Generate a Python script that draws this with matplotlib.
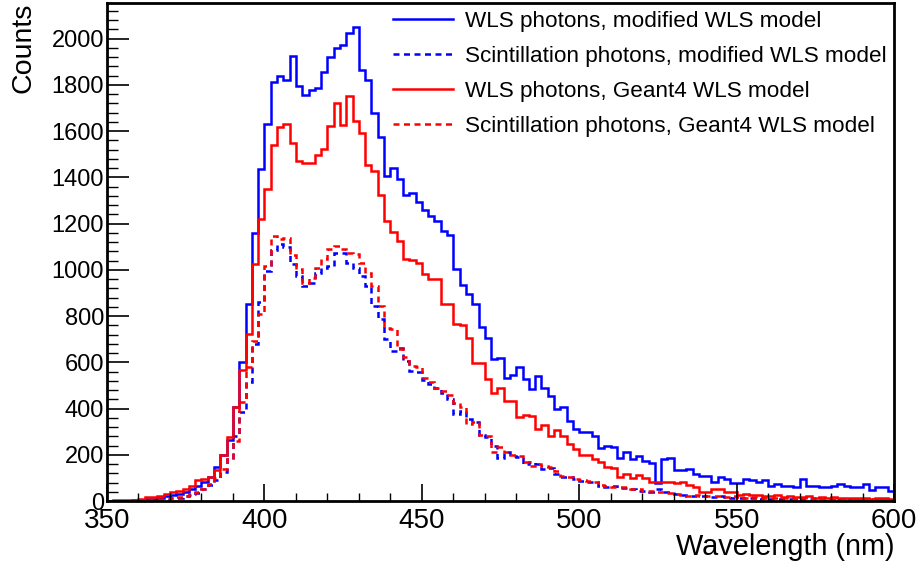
import numpy as np
import matplotlib
matplotlib.use("Agg")
import matplotlib.pyplot as plt
from matplotlib.ticker import MultipleLocator

plt.rcParams['font.family'] = ['Liberation Sans', 'DejaVu Sans']

# 2 nm bins from 350 to 600 nm (125 bins), five bins per row
bin_edges = np.arange(350, 602, 2)

wls_modified = [
    0, 0, 1, 2, 3,
    5, 8, 10, 14, 20,
    25, 30, 40, 52, 66,
    81, 102, 145, 199, 265,
    405, 603, 851, 1158, 1437,
    1632, 1812, 1840, 1820, 1927,
    1797, 1755, 1777, 1787, 1855,
    1920, 1960, 1974, 2025, 2052,
    1866, 1821, 1678, 1574, 1405,
    1441, 1395, 1326, 1334, 1293,
    1260, 1235, 1211, 1168, 1153,
    1002, 933, 894, 851, 753,
    707, 613, 618, 534, 546,
    580, 527, 484, 541, 487,
    455, 397, 405, 347, 311,
    300, 300, 282, 228, 239,
    232, 184, 213, 181, 193,
    174, 164, 78, 181, 184,
    135, 135, 138, 117, 107,
    107, 84, 102, 95, 78,
    78, 95, 91, 81, 92,
    63, 73, 63, 63, 59,
    95, 66, 66, 59, 59,
    63, 73, 66, 59, 62,
    73, 49, 59, 59, 45,
]

scint_modified = [
    0, 0, 0, 1, 1,
    2, 3, 5, 7, 9,
    12, 15, 20, 27, 35,
    50, 70, 90, 125, 180,
    282, 383, 513, 678, 861,
    995, 1085, 1110, 1100, 1024,
    973, 930, 945, 988, 1010,
    1017, 1074, 1074, 1031, 1010,
    973, 930, 844, 786, 700,
    649, 664, 606, 563, 556,
    522, 505, 491, 469, 441,
    376, 390, 354, 340, 285,
    275, 239, 184, 210, 196,
    189, 160, 167, 160, 138,
    141, 117, 105, 105, 95,
    88, 81, 81, 64, 59,
    64, 55, 55, 52, 45,
    43, 37, 52, 37, 37,
    30, 26, 23, 20, 20,
    20, 16, 23, 16, 14,
    12, 14, 11, 10, 12,
    9, 10, 8, 9, 7,
    8, 7, 9, 6, 7,
    6, 8, 5, 7, 6,
    5, 6, 5, 4, 5,
]

wls_geant4 = [
    2, 3, 3, 5, 6,
    10, 16, 18, 23, 30,
    37, 42, 54, 65, 93,
    95, 102, 135, 199, 279,
    405, 565, 721, 1027, 1218,
    1348, 1540, 1619, 1629, 1550,
    1472, 1463, 1463, 1495, 1522,
    1621, 1722, 1625, 1752, 1643,
    1593, 1455, 1427, 1324, 1211,
    1163, 1125, 1048, 1043, 1031,
    983, 959, 959, 854, 851,
    765, 762, 704, 599, 599,
    530, 467, 487, 431, 431,
    364, 373, 369, 311, 328,
    280, 307, 282, 246, 225,
    199, 199, 181, 167, 145,
    141, 105, 117, 98, 112,
    98, 81, 84, 81, 81,
    78, 81, 69, 59, 40,
    40, 52, 52, 40, 37,
    28, 30, 25, 27, 22,
    20, 24, 18, 20, 16,
    18, 20, 15, 17, 14,
    16, 12, 15, 13, 11,
    14, 10, 12, 11, 9,
]

scint_geant4 = [
    0, 0, 1, 1, 2,
    3, 4, 6, 8, 10,
    13, 17, 22, 30, 38,
    52, 75, 100, 140, 180,
    260, 429, 578, 693, 808,
    1017, 1146, 1132, 1139, 1063,
    1002, 945, 966, 1010, 1045,
    1089, 1103, 1089, 1074, 1067,
    1031, 988, 930, 844, 750,
    743, 657, 621, 585, 578,
    534, 513, 491, 477, 458,
    426, 405, 333, 340, 285,
    282, 210, 232, 210, 199,
    193, 167, 153, 160, 153,
    146, 128, 110, 102, 95,
    91, 88, 81, 69, 66,
    59, 59, 59, 52, 52,
    45, 45, 40, 37, 33,
    30, 26, 23, 26, 20,
    23, 20, 20, 16, 20,
    16, 14, 16, 13, 15,
    12, 14, 11, 13, 10,
    12, 10, 11, 9, 10,
    9, 10, 8, 9, 7,
    8, 9, 7, 8, 6,
]

labels = [
    "WLS photons, modified WLS model",
    "Scintillation photons, modified WLS model",
    "WLS photons, Geant4 WLS model",
    "Scintillation photons, Geant4 WLS model",
]

fig = plt.figure(figsize=(9.17, 5.67), dpi=100)
ax = fig.add_axes([0.1167, 0.1164, 0.8583, 0.8783])

lw = 1.8
dash = (2.4, 1.8)
ax.stairs(wls_modified, bin_edges, color="#0000ff", lw=lw, label=labels[0])
ax.stairs(scint_modified, bin_edges, color="#0000ff", lw=lw, ls=(0, dash), label=labels[1])
ax.stairs(wls_geant4, bin_edges, color="#ff0000", lw=lw, label=labels[2])
ax.stairs(scint_geant4, bin_edges, color="#ff0000", lw=lw, ls=(0, dash), label=labels[3])

ax.set_xlim(350, 600)
ax.set_ylim(0, 1.05 * max(wls_modified))

ax.xaxis.set_major_locator(MultipleLocator(50))
ax.xaxis.set_minor_locator(MultipleLocator(10))
ax.yaxis.set_major_locator(MultipleLocator(200))
ax.yaxis.set_minor_locator(MultipleLocator(40))
ax.tick_params(which="both", direction="in", top=False, right=False, color="black")
ax.tick_params(axis="x", which="major", length=12, width=1.2, labelsize=20, pad=5)
ax.tick_params(axis="x", which="minor", length=6, width=1.0)
ax.tick_params(axis="y", which="major", length=16, width=1.2, labelsize=17, pad=2)
ax.tick_params(axis="y", which="minor", length=8, width=1.0)
for s in ax.spines.values():
    s.set_linewidth(2.0)

ax.set_xlabel("Wavelength (nm)", fontsize=20.8, loc="right")
ax.xaxis.set_label_coords(1.0, -0.064)
ax.set_ylabel("Counts", fontsize=20.5, loc="top")
ax.yaxis.set_label_coords(-0.089, 1.0)

leg = ax.legend(loc="upper right", bbox_to_anchor=(1.0, 1.0), frameon=False,
                fontsize=16.2, handlelength=2.67, handletextpad=0.53,
                labelspacing=0.62, borderaxespad=0.0, borderpad=0.35)

fig.savefig("out.png", dpi=100)
